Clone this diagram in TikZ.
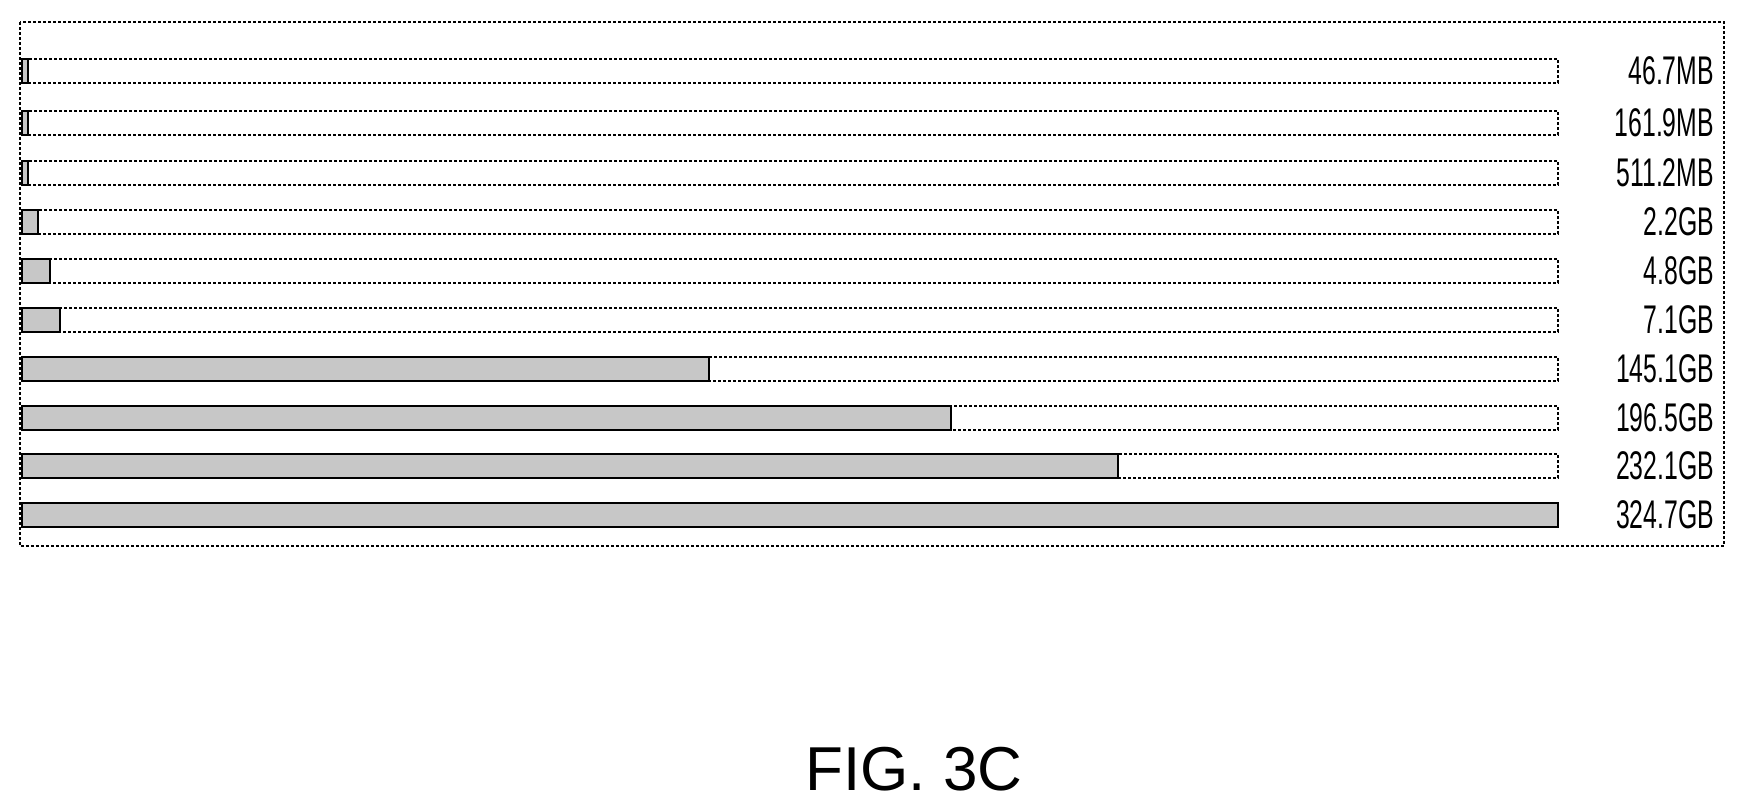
\documentclass[tikz,border=0pt]{standalone}
\usepackage{fontspec}
\setmainfont{Liberation Sans}
\begin{document}
\begin{tikzpicture}[x=1pt,y=-1pt,
  framebox/.style={draw=black,densely dashed,line width=1.2pt},
  barbox/.style={draw=black,densely dashed,line width=1.2pt},
  barfill/.style={draw=black,line width=1.6pt,fill=black!22},
  sizelabel/.style={anchor=east,inner sep=0pt,xscale=0.62,font=\fontsize{40}{40}\selectfont}]
  \useasboundingbox (0,0) rectangle (1740,811);
  \draw[framebox] (20,22) rectangle (1724,546);
  \foreach \yc/\w/\txt [count=\i] in {71/28/46.7MB,123/28/161.9MB,173/28/511.2MB,222/38/2.2GB,271/50/4.8GB,320/60/7.1GB,369/709/145.1GB,418/951/196.5GB,466/1118/232.1GB,515/1558/324.7GB}{
    \draw[barbox] (22,\yc-12) rectangle (1558,\yc+12);
    \draw[barfill] (22,\yc-12) rectangle (\w,\yc+12);
    \node[sizelabel] (size\i) at (1714,\yc) {\txt};
  }
  \node[font=\fontsize{62}{62}\selectfont] (caption) at (914,769) {FIG. 3C};
\end{tikzpicture}
\end{document}
